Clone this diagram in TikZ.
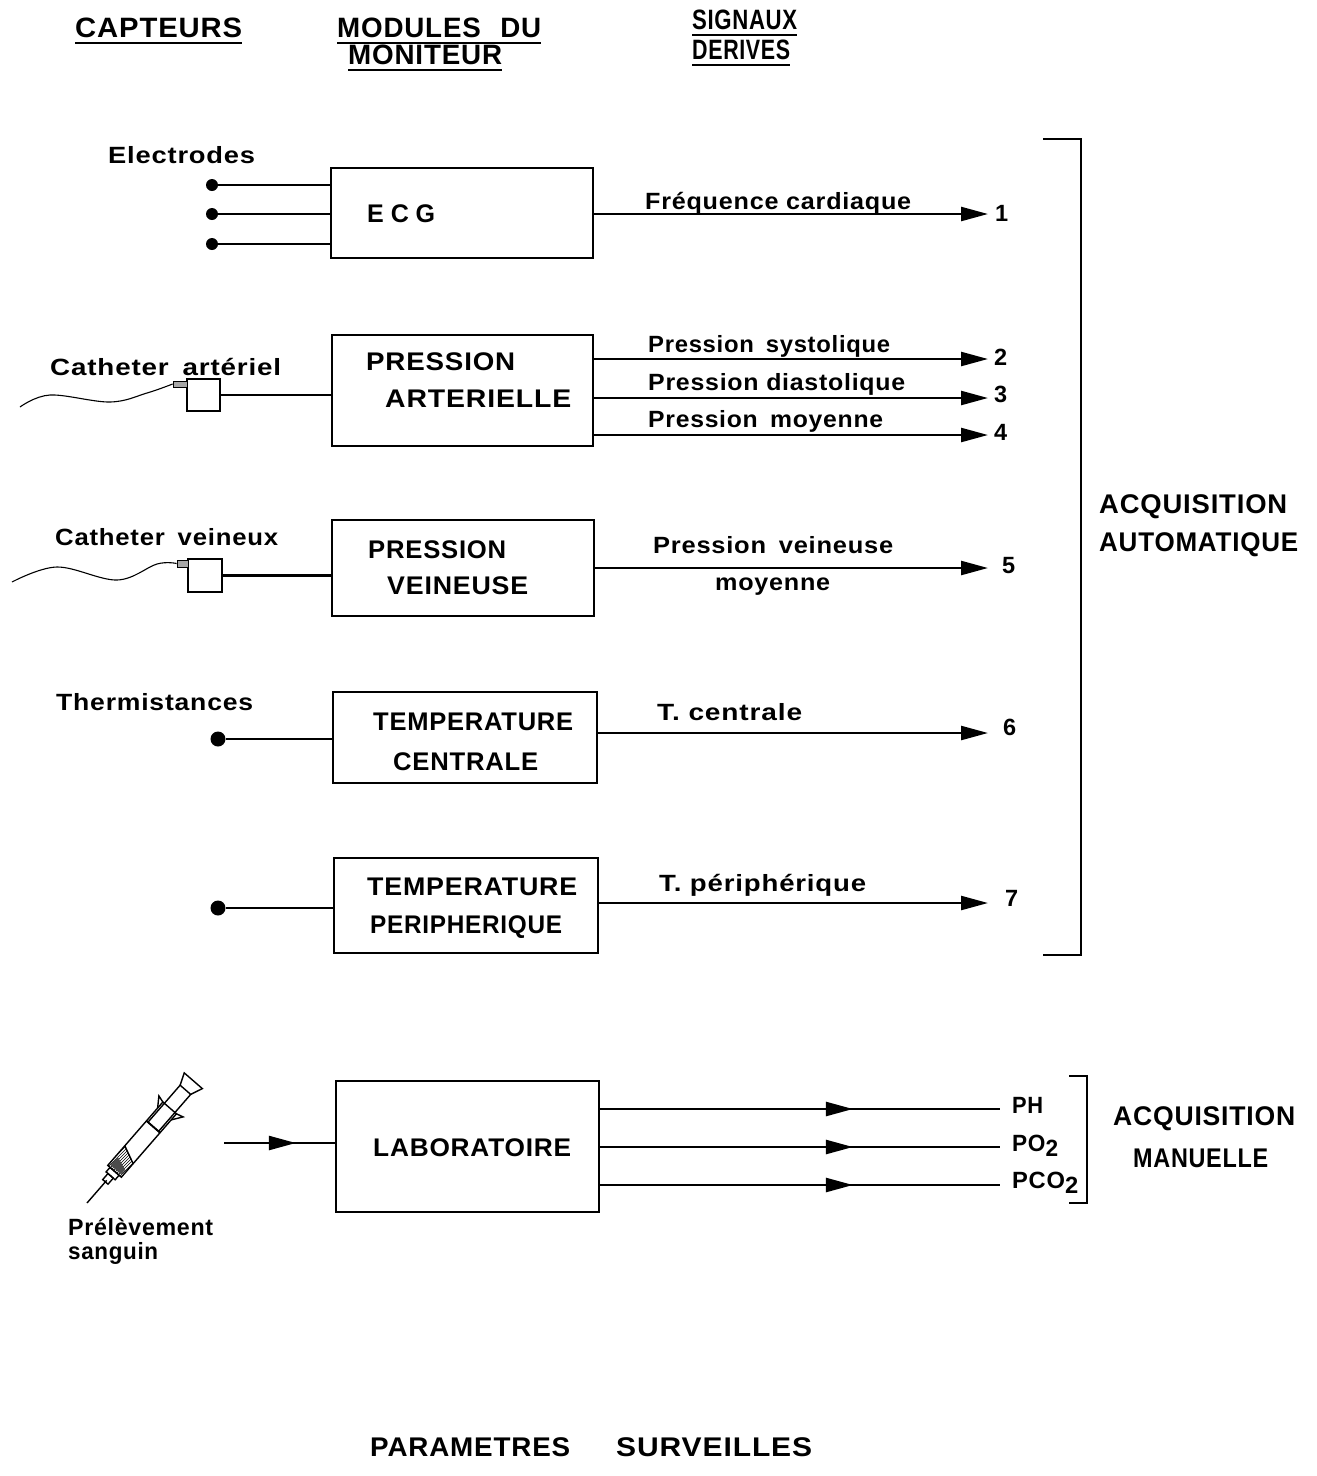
\documentclass[tikz,border=0pt]{standalone}
\usepackage{fontspec}
\usepackage{graphicx}
\setmainfont{Liberation Sans}
\newfontfamily\lsf{Liberation Sans}[LetterSpace=3]
\usetikzlibrary{arrows.meta,decorations.markings,patterns}
\newsavebox\fitbox
\newcommand\fitw[2]{\sbox\fitbox{#2}\pgfmathsetmacro\fitsx{#1/\the\wd\fitbox}\scalebox{\fitsx}[1]{\usebox\fitbox}}
\tikzset{
  txt/.style={inner sep=0pt, anchor=base west},
  body/.style={txt, font=\lsf\bfseries\fontsize{23.5}{25}\selectfont},
  boxt/.style={txt, font=\lsf\bfseries\fontsize{25.5}{27}\selectfont},
  head/.style={txt, font=\lsf\bfseries\fontsize{28}{30}\selectfont},
  big/.style={txt, font=\lsf\bfseries\fontsize{27}{29}\selectfont},
  module/.style={draw, line width=2.8pt, inner sep=0pt},
  wire/.style={line width=2.4pt},
  uline/.style={line width=2.4pt},
  bracket/.style={line width=2.8pt},
  arr/.style={wire, -{Triangle[length=27pt,width=14pt]}},
  midarr/.style={wire, postaction={decorate}, decoration={markings, mark=at position #1 with {\arrow{Triangle[length=27pt,width=14pt]}}}},
  edot/.style={circle, fill, inner sep=0pt, minimum size=12pt},
  tdot/.style={circle, fill, inner sep=0pt, minimum size=15pt},
  sensor/.style={draw, line width=2.4pt, inner sep=0pt},
  tip/.style={draw, line width=0.8pt, fill=gray!70, inner sep=0pt},
  syr/.style={line width=1.4pt},
}
\begin{document}
\begin{tikzpicture}[x=1pt,y=-1pt]
\path[fill=white,use as bounding box] (0,0) rectangle (1317,1476);

% headers
\node[head] (hcap) at (75,37) {\fitw{167}{CAPTEURS}};
\node[head] (hmod) at (337,37) {\fitw{204}{MODULES\hspace{0.7em}DU}};
\node[head] (hmon) at (348,64) {\fitw{154}{MONITEUR}};
\node[head] (hsig) at (692,29) {\fitw{105}{SIGNAUX}};
\node[head] (hder) at (692,59) {\fitw{98}{DERIVES}};
\foreach \n in {hcap,hmod,hmon,hsig,hder}
  \draw[uline] ([yshift=-6pt]\n.base west) -- ([yshift=-6pt]\n.base east);

% module boxes
\node[module, minimum width=262pt, minimum height=90pt] (ecg) at (462,213) {};
\node[module, minimum width=261pt, minimum height=111pt] (pa) at (462.5,390.5) {};
\node[module, minimum width=262pt, minimum height=96pt] (pv) at (463,568) {};
\node[module, minimum width=264pt, minimum height=91pt] (tc) at (465,737.5) {};
\node[module, minimum width=264pt, minimum height=95pt] (tp) at (466,905.5) {};
\node[module, minimum width=263pt, minimum height=131pt] (lab) at (467.5,1146.5) {};

% module texts
\node[boxt] (tecg) at (367,222) {\fitw{68}{E\hspace{7pt}C\hspace{7pt}G}};
\node[boxt] (tpa1) at (366,370) {\fitw{149}{PRESSION}};
\node[boxt] (tpa2) at (385,407) {\fitw{186}{ARTERIELLE}};
\node[boxt] (tpv1) at (368,558) {\fitw{138}{PRESSION}};
\node[boxt] (tpv2) at (387,594) {\fitw{141}{VEINEUSE}};
\node[boxt] (ttc1) at (373,730) {\fitw{200}{TEMPERATURE}};
\node[boxt] (ttc2) at (393,770) {\fitw{145}{CENTRALE}};
\node[boxt] (ttp1) at (367,895) {\fitw{210}{TEMPERATURE}};
\node[boxt] (ttp2) at (370,933) {\fitw{192}{PERIPHERIQUE}};
\node[boxt] (tlab) at (373,1156) {\fitw{198}{LABORATOIRE}};

% sensor labels
\node[body] (lel) at (108,163) {\fitw{147}{Electrodes}};
\node[body] (lca) at (50,375) {\fitw{231}{Catheter\hspace{0.5em}artériel}};
\node[body] (lcv) at (55,545) {\fitw{223}{Catheter\hspace{0.5em}veineux}};
\node[body] (lth) at (56,710) {\fitw{197}{Thermistances}};
\node[body] (lpr1) at (68,1235) {\fitw{145}{Prélèvement}};
\node[body] (lpr2) at (68,1259) {\fitw{90}{sanguin}};

% signal labels
\node[body] (sfc) at (645,209) {\fitw{266}{Fréquence cardiaque}};
\node[body] (sps) at (648,352) {\fitw{242}{Pression\hspace{0.5em}systolique}};
\node[body] (spd) at (648,390) {\fitw{257}{Pression diastolique}};
\node[body] (spm) at (648,427) {\fitw{235}{Pression\hspace{0.5em}moyenne}};
\node[body] (spv1) at (653,553) {\fitw{240}{Pression\hspace{0.5em}veineuse}};
\node[body] (spv2) at (715,590) {\fitw{115}{moyenne}};
\node[body] (stc) at (657,720) {\fitw{145}{T. centrale}};
\node[body] (stp) at (659,891) {\fitw{207}{T. périphérique}};

% numbers
\node[body] (n1) at (995,221) {1};
\node[body] (n2) at (994,365) {2};
\node[body] (n3) at (994,402) {3};
\node[body] (n4) at (994,440) {4};
\node[body] (n5) at (1002,573) {5};
\node[body] (n6) at (1003,735) {6};
\node[body] (n7) at (1005,906) {7};

% electrodes
\node[edot] (e1) at (212,185) {};
\node[edot] (e2) at (212,214) {};
\node[edot] (e3) at (212,244) {};
\foreach \e in {e1,e2,e3} \draw[wire] (\e) -- (ecg.west |- \e);

% catheters
\node[sensor, minimum width=33pt, minimum height=32pt] (cA) at (203.5,395) {};
\node[sensor, minimum width=34pt, minimum height=33pt] (cV) at (205,575.5) {};
\node[tip, minimum width=14pt, minimum height=6pt] (hA) at (180,384) {};
\node[tip, minimum width=11pt, minimum height=7pt] (hV) at (182.5,563.5) {};
\draw[line width=1.1pt] plot[smooth, tension=0.6] coordinates {(20,407) (50,395) (110,402) (147,393) (hA.west)};
\draw[line width=1.1pt] plot[smooth, tension=0.6] coordinates {(12,582) (57,567) (117,580) (157,564) (hV.west)};
\draw[wire] (cA.east) -- (pa.west |- cA.east);
\draw[wire] (cV.east) -- (pv.west |- cV.east);

% thermistances
\node[tdot] (th1) at (218,739) {};
\node[tdot] (th2) at (218,908) {};
\draw[wire] (th1) -- (tc.west |- th1);
\draw[wire] (th2) -- (tp.west |- th2);

% output arrows
\coordinate (t1) at (988,214);
\coordinate (t2) at (988,359);
\coordinate (t3) at (988,398);
\coordinate (t4) at (988,435);
\coordinate (t5) at (988,568);
\coordinate (t6) at (988,733);
\coordinate (t7) at (988,903);
\draw[arr] (ecg.east |- t1) -- (t1);
\draw[arr] (pa.east |- t2) -- (t2);
\draw[arr] (pa.east |- t3) -- (t3);
\draw[arr] (pa.east |- t4) -- (t4);
\draw[arr] (pv.east |- t5) -- (t5);
\draw[arr] (tc.east |- t6) -- (t6);
\draw[arr] (tp.east |- t7) -- (t7);

% brackets
\coordinate (bA1) at (1043,139);
\coordinate (bA2) at (1081,139);
\coordinate (bA3) at (1081,955);
\coordinate (bA4) at (1043,955);
\draw[bracket] (bA1) -- (bA2) -- (bA3) -- (bA4);
\node[big] (acq1) at (1099,513) {\fitw{188}{ACQUISITION}};
\node[big] (acq2) at (1099,551) {\fitw{199}{AUTOMATIQUE}};

% syringe
\begin{scope}[shift={(87,1203)}, rotate=49]
  \draw[syr] (0,0) -- (30,0);
  \draw[syr] (28,-3.5) rectangle (36,3.5);
  \draw[syr] (36,-6) rectangle (42,6);
  \fill[pattern=north east lines, pattern color=black] (42,-9) -- (68,-9) -- (60,9) -- (42,9) -- cycle;
  \fill[black!70] (44,-7) -- (55,-7) -- (50,7) -- (44,7) -- cycle;
  \draw[syr] (68,-9) -- (60,9);
  \draw[syr] (42,-9) rectangle (126,9);
  \draw[syr] (101,-7) rectangle (150,7);
  \draw[line width=1.8pt] (101,-9) -- (101,9);
  \draw[syr] (118,9) -- (128,16) -- (126,9);
  \draw[syr] (118,-9) -- (128,-16) -- (126,-9);
  \draw[syr] (150,-7) -- (162,-12) -- (162,12) -- (150,7);
\end{scope}
\coordinate (sy) at (224,1143);
\draw[midarr=0.65] (sy) -- (lab.west |- sy);

% lab outputs
\coordinate (phc) at (1000,1109);
\coordinate (po2c) at (1000,1147);
\coordinate (pco2c) at (1000,1185);
\draw[midarr=0.632] (lab.east |- phc) -- (phc);
\draw[midarr=0.632] (lab.east |- po2c) -- (po2c);
\draw[midarr=0.632] (lab.east |- pco2c) -- (pco2c);
\node[body] (lph) at (1012,1113) {\fitw{31}{PH}};
\node[body] (lpo2) at (1012,1151) {\fitw{46}{PO\raisebox{-5pt}{2}}};
\node[body] (lpco2) at (1012,1188) {\fitw{66}{PCO\raisebox{-5pt}{2}}};
\coordinate (bB1) at (1069,1076);
\coordinate (bB2) at (1087,1076);
\coordinate (bB3) at (1087,1203);
\coordinate (bB4) at (1069,1203);
\draw[bracket] (bB1) -- (bB2) -- (bB3) -- (bB4);
\node[big] (acq3) at (1113,1125) {\fitw{182}{ACQUISITION}};
\node[big] (acq4) at (1133,1167) {\fitw{135}{MANUELLE}};

% bottom title
\node[big] (par1) at (370,1456) {\fitw{200}{PARAMETRES}};
\node[big] (par2) at (616,1456) {\fitw{196}{SURVEILLES}};
\end{tikzpicture}
\end{document}
